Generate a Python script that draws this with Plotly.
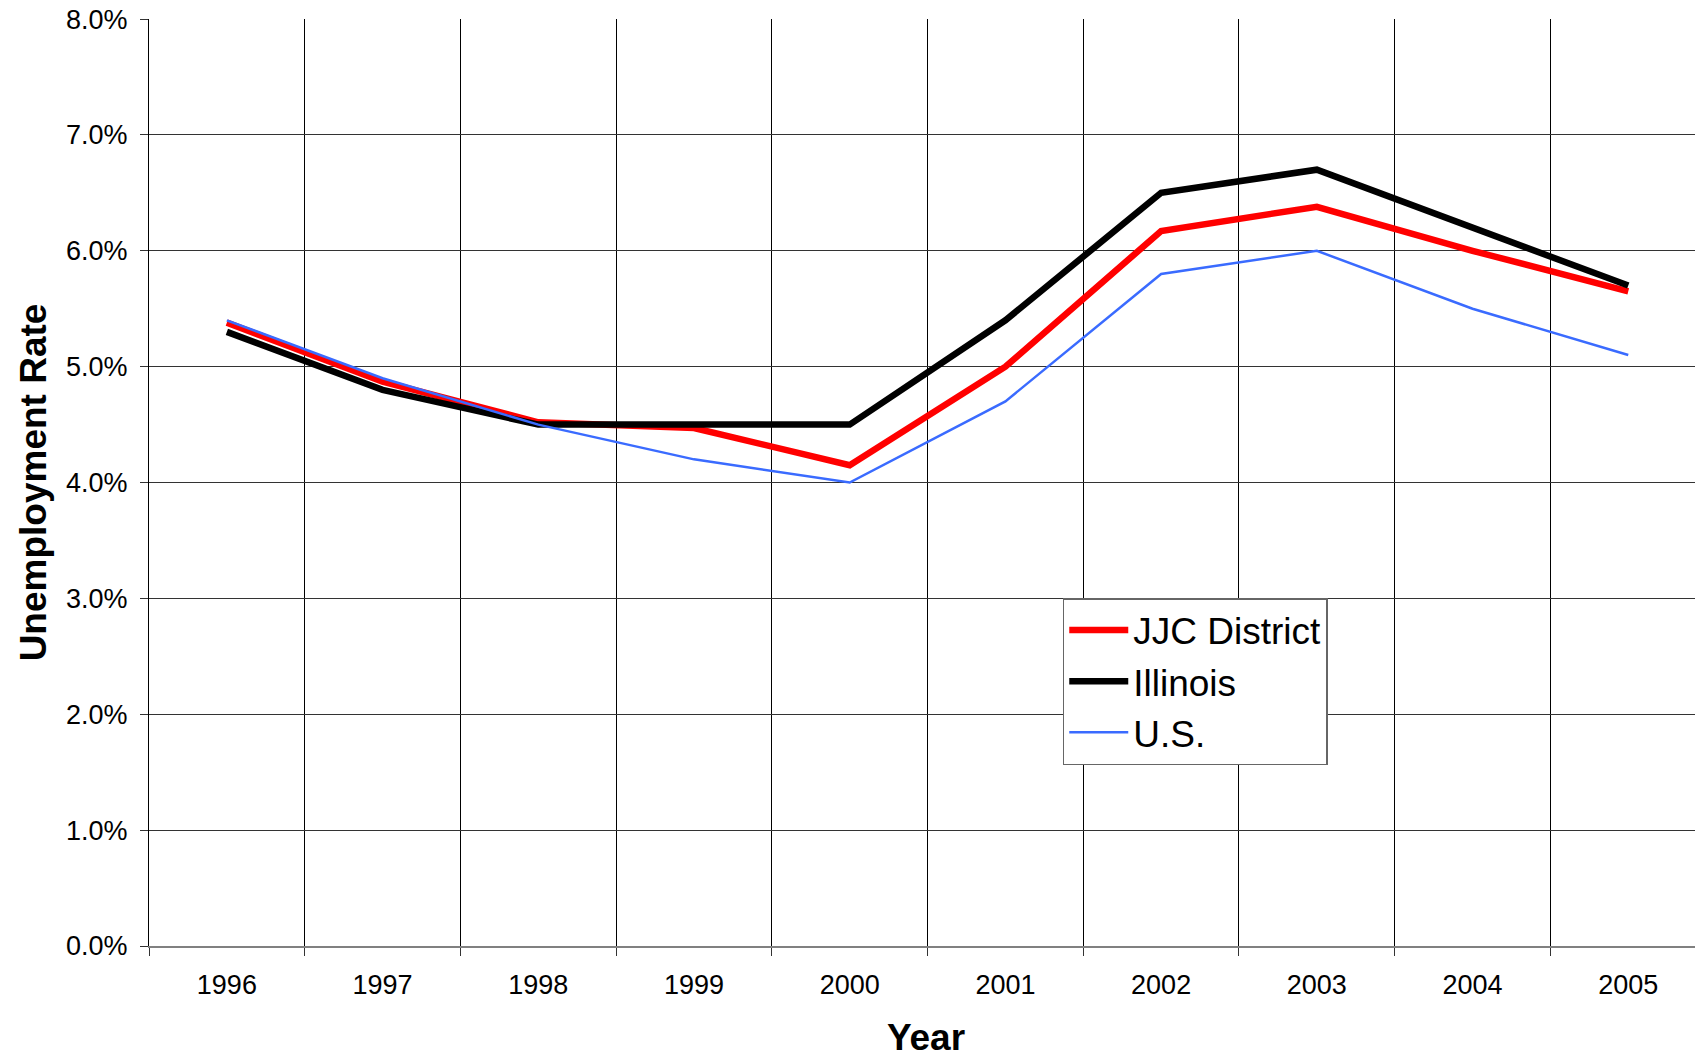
import plotly.graph_objects as go

years = ["1996", "1997", "1998", "1999", "2000", "2001", "2002", "2003", "2004", "2005"]
jjc = [5.38, 4.87, 4.52, 4.47, 4.15, 5.00, 6.17, 6.38, 6.00, 5.65]
illinois = [5.30, 4.80, 4.50, 4.50, 4.50, 5.40, 6.50, 6.70, 6.20, 5.70]
us = [5.40, 4.90, 4.50, 4.20, 4.00, 4.70, 5.80, 6.00, 5.50, 5.10]
y_ticks = [0, 1, 2, 3, 4, 5, 6, 7, 8]
y_labels = ["0.0%", "1.0%", "2.0%", "3.0%", "4.0%", "5.0%", "6.0%", "7.0%", "8.0%"]

FONT = "Liberation Sans, Arial, sans-serif"

fig = go.Figure()
fig.add_trace(go.Scatter(x=years, y=jjc, name="JJC District", mode="lines",
                         line=dict(color="#FF0000", width=6.5)))
fig.add_trace(go.Scatter(x=years, y=illinois, name="Illinois", mode="lines",
                         line=dict(color="#000000", width=6.5)))
fig.add_trace(go.Scatter(x=years, y=us, name="U.S.", mode="lines",
                         line=dict(color="#3A6BFF", width=2.5)))

fig.update_layout(
    width=1695, height=1050,
    margin=dict(l=141, r=0, t=11, b=112, autoexpand=False),
    paper_bgcolor="white", plot_bgcolor="white",
    font=dict(family=FONT, color="black"),
    showlegend=True,
    legend=dict(
        x=0.588, y=0.3754, xanchor="left", yanchor="top",
        bgcolor="white", bordercolor="#666666", borderwidth=1.5,
        font=dict(size=37, family=FONT, color="black"),
        tracegroupgap=0, itemwidth=59,
    ),
)

fig.update_xaxes(
    type="category", range=[-0.5, 9.48],
    tickson="boundaries", ticks="outside", ticklen=8, tickcolor="#333333",
    ticklabelstandoff=14,
    showgrid=True, gridcolor="#000000", gridwidth=1,
    showline=True, linecolor="#808080", linewidth=2,
    tickfont=dict(size=27, family=FONT, color="black"),
    title=dict(text="<b>Year</b>", font=dict(size=37, family=FONT, color="black"), standoff=28),
    zeroline=False, automargin=False,
)
fig.update_yaxes(
    range=[0, 8.0005], tickvals=y_ticks, ticktext=y_labels,
    ticks="outside", ticklen=8, tickcolor="#333333",
    ticklabeloverflow="allow", ticklabelstandoff=7,
    showgrid=True, gridcolor="#333333", gridwidth=1,
    showline=True, linecolor="#000000", linewidth=1,
    tickfont=dict(size=27, family=FONT, color="black"),
    title=dict(text="<b>Unemployment Rate</b>", font=dict(size=37, family=FONT, color="black"), standoff=8),
    zeroline=False, automargin=False,
)

fig.write_html("out.html")
